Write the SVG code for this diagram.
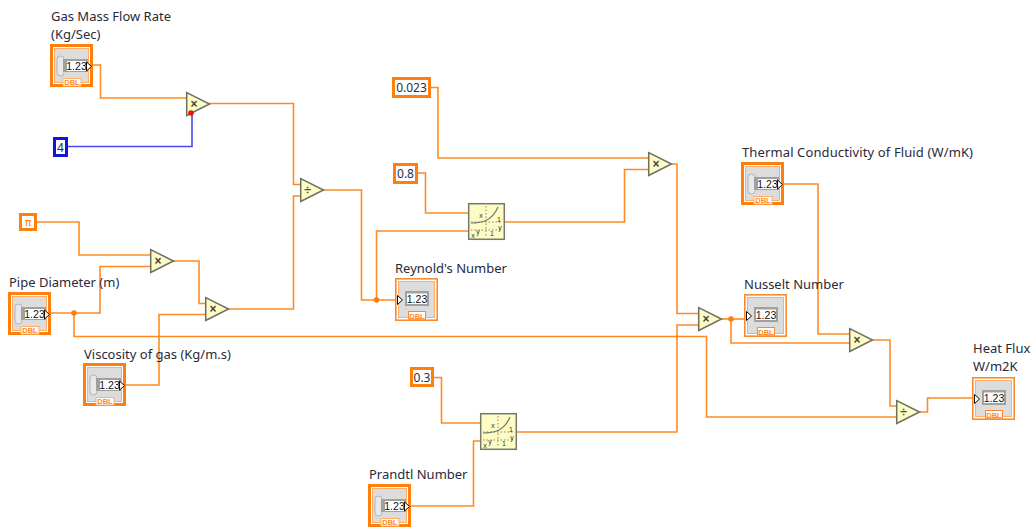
<svg xmlns="http://www.w3.org/2000/svg" width="1032" height="528" viewBox="0 0 1032 528">
<style>
.w{fill:none;stroke:#ff8a22;stroke-width:1.6}
.b{fill:none;stroke:#4a4af0;stroke-width:1.6}
.lab{font-family:"Noto Sans","Open Sans",sans-serif;font-size:13px;fill:#2a2a3a}
.num{font-family:"Noto Sans",sans-serif;font-size:12px;fill:#23304a;text-anchor:middle}
.v{font-family:"Liberation Sans",sans-serif;font-size:10.5px;fill:#111;text-anchor:middle}
.d{font-family:"Liberation Sans",sans-serif;font-size:7.5px;font-weight:bold;fill:#fd8a2a;text-anchor:middle}
.op{font-family:"Liberation Sans",sans-serif;font-size:12px;font-weight:bold;fill:#444;text-anchor:middle}
.g{font-family:"Liberation Sans",sans-serif;font-size:7px;fill:#333;text-anchor:middle}
.k{fill:#fff;stroke:#ff7f0e;stroke-width:3}
.kb{fill:#fff;stroke:#1414e0;stroke-width:3}
.tri{fill:#fdfcc4;stroke:#6e6e60;stroke-width:1.5}
.j{fill:#ff7f0e}
</style>
<defs>
<g id="ctl">
<rect x="1.5" y="1.5" width="40" height="40" fill="#fff" stroke="#ff7f0e" stroke-width="3"/>
<rect x="4.500" y="4.500" width="34" height="34" fill="#dcdcdc" stroke="#fdaf6a"/>
<rect x="7" y="12" width="7" height="20" rx="3.5" fill="#e8e8e8" stroke="#b5b5b5"/>
<rect x="13" y="15" width="25" height="13" fill="#a0a0a0"/>
<rect x="17" y="17" width="19" height="10" fill="#fff"/>
<path d="M36.500 18l5 4.500-5 4.500z" fill="#fff" stroke="#111"/>
<rect x="13" y="34.500" width="18" height="7.500" fill="#fff" stroke="#fdaf6a"/>
</g>
<g id="ind">
<rect x="0.800" y="0.800" width="41.400" height="41.400" fill="#fff" stroke="#fd8a2a" stroke-width="1.600"/>
<rect x="3.500" y="3.500" width="36" height="36" fill="#dcdcdc" stroke="#fdaf6a"/>
<rect x="10" y="13" width="24" height="15" fill="#a0a0a0"/>
<rect x="12" y="15.500" width="20" height="10.500" fill="#fff"/>
<path d="M2.500 17.500l5 4.500-5 4.500z" fill="#fff" stroke="#111"/>
<rect x="13.500" y="33.500" width="17" height="7.500" fill="#fff" stroke="#fd8a2a"/>
</g>
<path id="t" class="tri" d="M0.700 0.700L23.500 12 0.700 23.500z"/>
<g id="pow">
<rect x="0.700" y="0.700" width="35.600" height="35.600" fill="#fdfcc4" stroke="#77776a" stroke-width="1.500"/>
<path d="M18 3V34M3 19H33M3 27H33" fill="none" stroke="#555" stroke-width="0.700" stroke-dasharray="1.500 2"/>
<path d="M3 20C14 20 24 18 30 4" fill="none" stroke="#777" stroke-width="1.200"/>
</g>
</defs>

<g id="connectors">
<path class="w" d="M93 65H100.500V98H186"/>
<path class="w" d="M209 103.500H293.500V184.500H300"/>
<path class="w" d="M229 309H293.500V196H300"/>
<path class="b" d="M68 146.500H192V114"/>
<path class="w" d="M37 222H79V255H150"/>
<path class="w" d="M51 313H100V266.500H150"/>
<path class="w" d="M74 313V336.500H706.500V417H896"/>
<path class="w" d="M173 261H199V303.500H205"/>
<path class="w" d="M126 385H159V314.500H205"/>
<path class="w" d="M323 190H361.500V300H396"/>
<path class="w" d="M376.500 300V231H468"/>
<path class="w" d="M431 87.500H438V158H648"/>
<path class="w" d="M418 173H425.500V213H468"/>
<path class="w" d="M505 222H624.500V169.500H648"/>
<path class="w" d="M671 164H677V313.500H698"/>
<path class="w" d="M516 432H677V325H698"/>
<path class="w" d="M434 377.500H441.500V423H480"/>
<path class="w" d="M411 506H473.500V441H480"/>
<path class="w" d="M722 319H745"/>
<path class="w" d="M731 319V343H849"/>
<path class="w" d="M784 184H818V334H849"/>
<path class="w" d="M873 340H890V406H896"/>
<path class="w" d="M920 412H927.500V398H973"/>
<circle class="j" cx="74" cy="313" r="2.800"/>
<circle class="j" cx="376.500" cy="300" r="2.800"/>
<circle class="j" cx="731" cy="319" r="2.800"/>
</g>

<g id="gas-mass-flow"><text class="lab" x="51" y="21">Gas Mass Flow Rate</text><text class="lab" x="51" y="39">(Kg/Sec)</text>
<g transform="translate(50,44)"><use href="#ctl"/><text class="v" x="26.500" y="26">1.23</text><text class="d" x="22" y="41">DBL</text></g></g>
<g id="pipe-diameter"><text class="lab" x="9" y="287">Pipe Diameter (m)</text>
<g transform="translate(8,292)"><use href="#ctl"/><text class="v" x="26.500" y="26">1.23</text><text class="d" x="22" y="41">DBL</text></g></g>
<g id="viscosity"><text class="lab" x="84" y="359">Viscosity of gas (Kg/m.s)</text>
<g transform="translate(83,363)"><use href="#ctl"/><text class="v" x="26.500" y="26">1.23</text><text class="d" x="22" y="41">DBL</text></g></g>
<g id="thermal"><text class="lab" x="742" y="157" textLength="231" lengthAdjust="spacing">Thermal Conductivity of Fluid (W/mK)</text>
<g transform="translate(741,162)"><use href="#ctl"/><text class="v" x="26.500" y="26">1.23</text><text class="d" x="22" y="41">DBL</text></g></g>
<g id="prandtl"><text class="lab" x="369" y="479">Prandtl Number</text>
<g transform="translate(368,484)"><use href="#ctl"/><text class="v" x="26.500" y="26">1.23</text><text class="d" x="22" y="41">DBL</text></g></g>

<g id="reynolds"><text class="lab" x="395" y="273">Reynold's Number</text>
<g transform="translate(395,278)"><use href="#ind"/><text class="v" x="22" y="25">1.23</text><text class="d" x="22" y="40.500">DBL</text></g></g>
<g id="nusselt"><text class="lab" x="744" y="289">Nusselt Number</text>
<g transform="translate(744,294)"><use href="#ind"/><text class="v" x="22" y="25">1.23</text><text class="d" x="22" y="40.500">DBL</text></g></g>
<g id="heat-flux"><text class="lab" x="973" y="353">Heat Flux</text><text class="lab" x="973" y="371">W/m2K</text>
<g transform="translate(972,377)"><use href="#ind"/><text class="v" x="22" y="25">1.23</text><text class="d" x="22" y="40.500">DBL</text></g></g>

<g id="const-4"><rect class="kb" x="54.500" y="138.500" width="12" height="17"/><text class="num" x="60.500" y="151.500">4</text></g>
<g id="const-pi"><rect class="k" x="20.500" y="214.500" width="15" height="15"/><text x="28" y="226" font-family="'DejaVu Sans',sans-serif" font-size="11" fill="#ff7f0e" text-anchor="middle">π</text></g>
<g id="const-0023"><rect class="k" x="393.500" y="78.500" width="36" height="18"/><text class="num" x="411.500" y="92">0.023</text></g>
<g id="const-08"><rect class="k" x="394.500" y="164.500" width="22" height="18"/><text class="num" x="405.500" y="178">0.8</text></g>
<g id="const-03"><rect class="k" x="411.500" y="368.500" width="21" height="17"/><text class="num" x="422" y="382">0.3</text></g>

<g id="mul-1" transform="translate(186,92)"><use href="#t"/><text class="op" x="8" y="16">×</text></g>
<g id="div-1" transform="translate(300,178)"><use href="#t"/><text class="op" x="7.500" y="16">÷</text></g>
<g id="mul-2" transform="translate(150,249)"><use href="#t"/><text class="op" x="8" y="16">×</text></g>
<g id="mul-3" transform="translate(205,297)"><use href="#t"/><text class="op" x="8" y="16">×</text></g>
<g id="mul-4" transform="translate(648,152)"><use href="#t"/><text class="op" x="8" y="16">×</text></g>
<g id="mul-5" transform="translate(698,307)"><use href="#t"/><text class="op" x="8" y="16">×</text></g>
<g id="mul-6" transform="translate(849,328)"><use href="#t"/><text class="op" x="8" y="16">×</text></g>
<g id="div-2" transform="translate(896,400)"><use href="#t"/><text class="op" x="7.500" y="16">÷</text></g>
<circle cx="191" cy="113" r="2.800" fill="#f01010"/>

<g id="pow-1" transform="translate(468,203)"><use href="#pow"/><text class="g" x="13" y="15">x</text><text class="g" x="31" y="19">1</text><text class="g" x="32" y="27">y</text><text class="g" x="5" y="35">x</text><text class="g" x="10" y="31">y</text><text class="g" x="24" y="33">1</text></g>
<g id="pow-2" transform="translate(480,413)"><use href="#pow"/><text class="g" x="13" y="15">x</text><text class="g" x="31" y="19">1</text><text class="g" x="32" y="27">y</text><text class="g" x="5" y="35">x</text><text class="g" x="10" y="31">y</text><text class="g" x="24" y="33">1</text></g>
</svg>
